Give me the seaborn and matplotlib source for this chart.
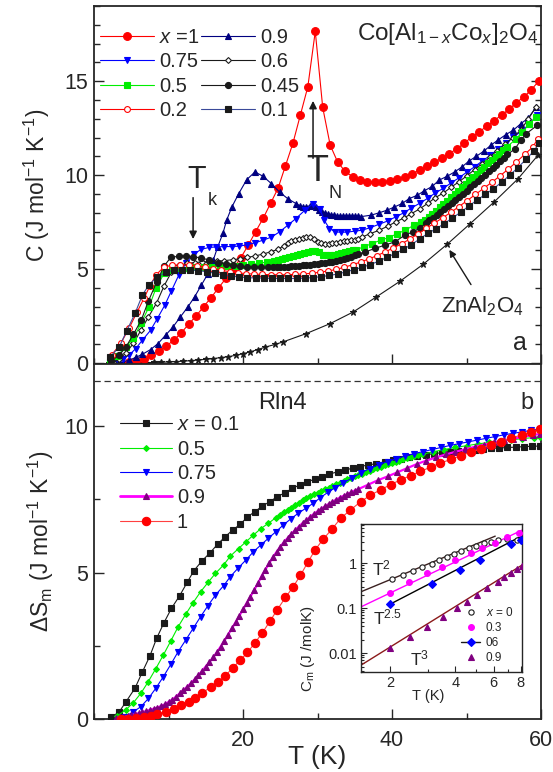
import numpy as np
import pandas as pd
import matplotlib
matplotlib.use("Agg")
import matplotlib.pyplot as plt
import seaborn as sns
from matplotlib.lines import Line2D
from matplotlib.ticker import MultipleLocator, FixedLocator, FixedFormatter, NullFormatter

# ---------------- panel a: specific heat C(T) ----------------
c_x100 = [(4.7,0.05),(5.7,0.1),(6.7,0.2),(7.7,0.42),(8.7,0.63),(9.7,0.9),(10.7,1.22),(11.7,1.6),(12.7,2.07),
          (13.7,2.5),(14.7,3.0),(15.7,3.47),(16.7,4.0),(17.7,4.5),(18.7,5.03),(19.7,5.6),(20.7,6.27),(21.7,7.0),
          (22.7,7.7),(23.7,8.5),(24.7,9.3),(25.7,10.5),(26.7,11.7),(27.7,13.2),(28.7,14.7),(29.7,17.65),(30.7,13.6),
          (31.7,11.6),(32.7,10.7),(33.7,10.2),(34.7,9.92),(35.7,9.75),(36.7,9.66),(37.7,9.64),(38.7,9.65),(39.7,9.7),
          (40.7,9.78),(41.7,9.92),(42.7,10.08),(43.7,10.26),(44.7,10.47),(45.7,10.7),(46.7,10.9),(47.7,11.15),
          (48.7,11.4),(49.7,11.7),(50.7,12.03),(51.7,12.3),(52.7,12.6),(53.7,12.9),(54.7,13.2),(55.7,13.5),
          (56.7,13.86),(57.7,14.16),(58.7,14.55),(59.7,15.0)]

c_x090 = [(3.5,0.02),(4.7,0.15),(5.6,0.3),(6.5,0.47),(7.6,0.72),(8.6,1.04),(9.6,1.48),(10.6,1.92),(11.6,2.46),
          (12.6,2.99),(13.5,3.52),(14.4,4.14),(15.3,4.76),(16.0,5.47),(16.6,6.18),(17.3,6.9),(17.8,7.6),(18.5,8.3),
          (19.4,9.0),(20.5,9.76),(21.6,10.17),(22.7,9.94),(23.8,9.55),(24.9,9.1),(26.0,8.75),(27.1,8.49),(27.6,8.38),
          (28.0,8.32),(28.5,8.32),(29.0,8.38),(29.4,8.42),(29.8,8.3),(30.2,8.14),(30.6,8.05),(31.0,7.97),(31.4,7.92),
          (31.8,7.88),(32.2,7.86),(32.6,7.84),(33.0,7.82),(33.4,7.81),(33.8,7.8),(34.2,7.8),(34.6,7.8),(35.0,7.8),
          (35.4,7.8),(35.8,7.79),(37.2,7.87),(38.3,8.0),(39.3,8.13),(40.3,8.3),(41.4,8.5),(42.3,8.75),(43.4,8.93),
          (44.3,9.16),(45.4,9.4),(46.3,9.73),(47.4,9.94),(48.4,10.17),(49.4,10.44),(50.3,10.74),(51.3,11.0),
          (52.3,11.27),(53.3,11.6),(54.2,11.86),(55.3,12.16),(56.3,12.4),(57.3,12.74),(58.3,13.04),(59.3,13.6)]

c_x075 = [(2.8,0.05),(3.9,0.24),(4.7,0.42),(5.6,0.77),(6.5,1.22),(7.6,1.75),(8.5,2.37),(9.5,3.08),(10.4,3.85),
          (11.4,4.7),(12.4,5.35),(13.4,5.8),(14.4,6.05),(15.4,6.15),(16.4,6.18),(17.5,6.2),(18.5,6.2),(19.5,6.22),
          (20.6,6.3),(21.6,6.4),(22.7,6.54),(23.8,6.7),(24.9,6.98),(26.0,7.33),(27.1,7.69),(28.3,8.13),(29.4,8.49),
          (30.3,8.22),(30.9,7.6),(31.6,7.16),(32.4,6.98),(33.2,6.96),(34.0,6.97),(35.0,7.02),(36.0,7.07),(37.1,7.21),
          (38.3,7.39),(39.4,7.56),(40.5,7.78),(41.6,8.0),(42.6,8.25),(43.7,8.5),(44.8,8.77),(45.8,9.05),(46.9,9.3),
          (47.9,9.58),(49.0,9.86),(50.0,10.15),(51.1,10.45),(52.1,10.75),(53.2,11.05),(54.2,11.38),(55.3,11.7),
          (56.3,12.02),(57.4,12.35),(58.4,12.7),(59.5,13.2)]

c_x060 = [(2.5,0.05),(3.4,0.2),(4.3,0.55),(5.3,1.05),(6.3,1.75),(7.3,2.45),(8.4,3.2),(9.4,4.1),(10.4,4.85),
          (11.4,5.2),(12.5,5.3),(13.5,5.35),(14.5,5.38),(15.5,5.4),(16.5,5.42),(17.5,5.45),(18.6,5.5),(19.6,5.55),
          (20.6,5.62),(21.6,5.7),(22.7,5.8),(23.7,5.92),(24.7,6.05),(25.5,6.25),(26.0,6.38),(26.5,6.47),(27.0,6.55),
          (27.5,6.62),(28.0,6.68),(28.5,6.72),(29.0,6.72),(29.5,6.62),(30.0,6.45),(30.5,6.37),(31.0,6.35),(31.5,6.36),
          (32.0,6.38),(32.5,6.41),(33.0,6.44),(33.5,6.47),(34.0,6.5),(34.5,6.54),(35.0,6.57),(35.5,6.62),(36.0,6.71),
          (37.1,6.89),(38.3,7.07),(39.4,7.28),(40.5,7.51),(41.6,7.72),(42.6,7.95),(43.7,8.2),(44.8,8.5),(45.8,8.8),
          (46.9,9.05),(47.9,9.35),(49.0,9.65),(50.0,9.95),(51.1,10.3),(52.1,10.6),(53.1,10.95),(54.1,11.3),
          (55.2,11.65),(56.2,12.0),(57.3,12.4),(58.3,13.0),(59.3,13.6)]

c_x050 = [(2.2,0.05),(3.1,0.37),(4.25,0.87),(5.3,1.31),(6.3,2.11),(7.4,3.0),(8.3,3.97),(9.4,4.77),(10.5,4.95),
          (11.6,5.04),(12.7,5.08),(13.7,5.1),(14.8,5.12),(15.8,5.13),(16.9,5.14),(17.9,5.15),(19.0,5.18),(20.0,5.2),
          (21.1,5.25),(22.1,5.3),(23.2,5.38),(24.2,5.45),(24.7,5.5),(25.2,5.54),(25.7,5.59),(26.2,5.64),(26.7,5.69),
          (27.2,5.74),(27.7,5.8),(28.2,5.86),(28.7,5.92),(29.2,5.97),(29.7,5.98),(30.2,5.9),(30.7,5.77),(31.2,5.74),
          (31.7,5.75),(32.2,5.77),(32.7,5.81),(33.2,5.85),(33.7,5.9),(34.2,5.94),(34.7,5.99),(35.2,6.04),(36.2,6.18),
          (37.3,6.36),(38.5,6.54),(39.6,6.68),(40.7,6.89),(41.8,7.07),(42.9,7.33),(43.9,7.5),(44.4,7.62),(44.9,7.76),
          (45.4,7.93),(45.9,8.1),(46.4,8.28),(46.9,8.46),(47.4,8.64),(47.9,8.82),(48.4,9.0),(48.9,9.18),(49.4,9.36),
          (49.9,9.54),(50.4,9.72),(50.9,9.9),(51.4,10.08),(51.9,10.26),(52.4,10.44),(52.9,10.62),(53.4,10.8),
          (53.9,10.98),(54.4,11.15),(54.9,11.32),(55.4,11.5),(56.6,11.9),(57.5,12.3),(58.4,12.7),(59.3,13.1)]

c_x045 = [(2.3,0.1),(3.4,0.43),(4.25,0.83),(5.3,1.54),(6.35,2.29),(7.3,3.3),(8.4,4.3),(9.4,5.16),(10.3,5.62),
          (11.4,5.69),(12.4,5.69),(13.3,5.65),(14.4,5.6),(15.5,5.47),(16.6,5.35),(17.7,5.25),(18.7,5.2),(19.6,5.15),
          (20.5,5.1),(21.5,5.1),(22.4,5.1),(23.4,5.1),(24.0,5.1),(24.5,5.1),(25.0,5.1),(25.5,5.12),(26.0,5.13),
          (26.5,5.15),(27.0,5.17),(27.5,5.18),(28.0,5.2),(28.5,5.21),(29.0,5.23),(29.5,5.26),(30.0,5.28),(30.5,5.3),
          (31.0,5.33),(31.5,5.37),(32.0,5.4),(32.5,5.43),(33.0,5.47),(33.5,5.53),(34.0,5.6),(34.5,5.67),(35.0,5.75),
          (35.5,5.8),(36.4,5.91),(37.7,6.1),(39.0,6.27),(40.4,6.45),(41.7,6.8),(42.8,6.98),(43.8,7.2),(44.5,7.45),
          (45.0,7.6),(45.5,7.73),(46.0,7.88),(46.5,8.03),(47.0,8.18),(47.5,8.34),(48.0,8.5),(48.5,8.67),(49.0,8.84),
          (49.5,9.01),(50.0,9.18),(50.5,9.35),(51.0,9.52),(51.5,9.69),(52.0,9.86),(52.5,10.03),(53.0,10.2),
          (53.5,10.38),(54.0,10.56),(54.5,10.74),(55.0,10.92),(55.5,11.1),(56.5,11.4),(57.3,11.86),(58.0,12.2),
          (59.5,12.65)]

c_x020 = [(2.4,0.45),(3.6,1.05),(4.7,1.85),(5.8,2.73),(6.7,3.44),(7.5,4.1),(8.3,4.68),(9.4,5.12),(10.5,5.2),
          (11.6,5.22),(12.7,5.22),(13.8,5.18),(14.9,5.1),(16.0,5.02),(17.1,4.94),(18.2,4.86),(19.3,4.8),(20.4,4.76),
          (21.5,4.73),(22.6,4.72),(23.7,4.7),(24.8,4.7),(25.9,4.7),(27.0,4.72),(28.1,4.74),(29.2,4.78),(30.3,4.83),
          (31.4,4.9),(32.5,4.98),(33.6,5.1),(34.7,5.23),(35.8,5.38),(36.9,5.54),(38.0,5.72),(39.1,5.92),(40.2,6.13),
          (41.3,6.35),(42.4,6.6),(43.5,6.88),(44.6,7.17),(45.7,7.45),(46.8,7.73),(47.9,8.02),(49.0,8.33),(50.1,8.65),
          (51.2,8.97),(52.3,9.3),(53.4,9.62),(54.5,9.96),(55.6,10.32),(56.7,10.7),(57.8,11.1),(58.9,11.5),(59.6,11.95)]

c_x010 = [(2.2,0.34),(3.4,0.87),(4.4,1.72),(5.5,2.64),(6.5,3.62),(7.4,4.18),(8.5,4.59),(9.6,4.82),(10.7,4.95),
          (11.8,4.97),(12.9,4.95),(14.0,4.92),(15.1,4.86),(16.2,4.78),(17.3,4.69),(18.4,4.63),(19.5,4.58),(20.6,4.54),
          (21.7,4.53),(22.8,4.52),(23.9,4.5),(25.0,4.5),(26.1,4.5),(27.2,4.5),(28.3,4.52),(29.4,4.55),(30.5,4.6),
          (31.6,4.66),(32.7,4.74),(33.8,4.85),(34.9,4.97),(36.0,5.1),(37.1,5.24),(38.2,5.42),(39.3,5.62),(40.4,5.83),
          (41.5,6.05),(42.6,6.3),(43.7,6.6),(44.8,6.9),(45.9,7.14),(47.0,7.42),(48.1,7.72),(49.2,8.02),(50.3,8.35),
          (51.4,8.67),(52.5,8.97),(53.6,9.27),(54.7,9.62),(55.8,10.0),(56.9,10.4),(58.0,10.85),(59.1,11.3),(59.7,11.7)]

c_zn = [(2,0.0),(3,0.0),(4,0.0),(5,0.01),(6,0.01),(7,0.02),(8,0.03),(9,0.04),(10,0.06),(11,0.08),(12,0.1),
        (13,0.13),(14,0.16),(15,0.2),(16,0.24),(17,0.29),(18,0.34),(19,0.41),(20,0.5),(21,0.6),(22,0.72),(23,0.85),
        (24.3,0.99),(25.4,1.13),(28.5,1.57),(31.7,2.1),(34.8,2.72),(37.9,3.52),(41.1,4.36),(44.2,5.26),(47.4,6.32),
        (50.5,7.42),(53.7,8.57),(56.9,9.8),(59.6,11.06)]

# ---------------- panel b: magnetic entropy ----------------
s_x010 = [(2.3,0.05),(3.4,0.25),(4.3,0.59),(5.5,1.05),(6.5,1.61),(7.5,2.15),(8.4,2.75),(9.4,3.29),(10.4,3.78),
          (11.5,4.21),(12.5,4.66),(13.4,5.06),(14.5,5.4),(15.6,5.68),(16.6,5.97),(17.6,6.22),(18.6,6.45),(19.6,6.64),
          (20.6,6.9),(21.6,7.08),(22.6,7.27),(23.6,7.42),(24.6,7.59),(25.6,7.72),(26.6,7.87),(27.6,7.99),(28.6,8.1),
          (29.6,8.18),(30.6,8.27),(31.6,8.36),(32.7,8.44),(33.7,8.5),(34.7,8.56),(35.7,8.62),(36.8,8.67),(37.9,8.72),
          (39.0,8.78),(40.1,8.84),(41.2,8.88),(42.3,8.93),(43.4,8.97),(44.5,9.02),(45.6,9.06),(46.7,9.09),(47.8,9.12),
          (48.9,9.15),(50.0,9.18),(51.1,9.2),(52.2,9.22),(53.3,9.24),(54.4,9.25),(55.5,9.27),(56.6,9.28),(57.7,9.3),
          (58.8,9.31),(59.8,9.32)]

s_x050 = [(3.1,0.1),(4.25,0.31),(5.3,0.56),(6.3,0.88),(7.25,1.26),(8.3,1.72),(9.3,2.18),(10.3,2.66),(11.3,3.15),
          (12.3,3.57),(13.3,3.97),(14.3,4.34),(15.3,4.66),(16.3,4.97),(17.4,5.26),(18.3,5.56),(19.4,5.82),(20.4,6.05),
          (21.4,6.28),(22.4,6.5),(23.4,6.68),(24.4,6.87),(25.0,6.96),(25.5,7.05),(26.0,7.13),(26.5,7.22),(27.0,7.3),
          (27.5,7.38),(28.0,7.46),(28.5,7.53),(29.0,7.6),(29.5,7.67),(30.0,7.73),(30.5,7.79),(31.0,7.85),(31.5,7.9),
          (32.0,7.96),(32.5,8.01),(33.0,8.07),(33.5,8.12),(34.0,8.18),(34.5,8.23),(35.0,8.28),(35.5,8.33),(36.0,8.38),
          (36.5,8.43),(37.0,8.48),(37.5,8.52),(38.0,8.57),(38.5,8.61),(39.0,8.66),(39.5,8.7),(40.0,8.74),(40.5,8.78),
          (41.0,8.82),(41.5,8.86),(42.0,8.9),(42.5,8.94),(43.0,8.97),(43.5,9.0),(44.0,9.03),(45.5,9.12),(47.0,9.2),
          (48.5,9.27),(50.0,9.33),(51.5,9.39),(53.0,9.44),(54.5,9.49),(56.0,9.53),(57.5,9.57),(59.0,9.61),(59.8,9.63)]

s_x075 = [(4.2,0.08),(5.3,0.25),(6.3,0.42),(7.3,0.7),(8.3,1.05),(9.3,1.44),(10.3,1.86),(11.3,2.3),(12.3,2.69),
          (13.3,3.09),(14.3,3.49),(15.3,3.87),(16.3,4.23),(17.4,4.55),(18.3,4.86),(19.3,5.14),(20.4,5.43),(21.4,5.71),
          (22.4,5.94),(23.4,6.17),(24.4,6.39),(25.4,6.62),(26.4,6.83),(27.4,7.02),(28.4,7.19),(29.4,7.36),(30.4,7.56),
          (31.4,7.74),(32.4,7.9),(33.4,8.05),(34.6,8.22),(35.8,8.4),(37.0,8.55),(38.2,8.68),(39.4,8.79),(40.6,8.89),
          (41.8,8.98),(43.0,9.06),(44.2,9.13),(45.4,9.2),(46.6,9.27),(47.8,9.34),(49.0,9.4),(50.2,9.46),(51.4,9.52),
          (52.6,9.58),(53.8,9.64),(55.0,9.7),(56.2,9.75),(57.4,9.8),(58.6,9.85),(59.8,9.9)]

s_x090 = [(3.0,0.04),(3.5,0.06),(4.0,0.08),(4.5,0.1),(5.0,0.13),(5.5,0.16),(6.0,0.2),(6.5,0.23),(7.0,0.27),
          (7.5,0.31),(8.0,0.35),(8.5,0.39),(9.0,0.44),(9.5,0.5),(10.0,0.58),(10.5,0.66),(11.0,0.76),(11.5,0.87),
          (12.0,0.99),(12.5,1.1),(13.0,1.22),(13.5,1.35),(14.0,1.49),(14.5,1.64),(15.0,1.79),(15.5,1.94),(16.0,2.1),
          (16.5,2.28),(17.0,2.47),(17.5,2.67),(18.0,2.88),(18.5,3.09),(19.0,3.3),(19.5,3.52),(20.0,3.74),(20.5,3.96),
          (21.0,4.18),(21.5,4.4),(22.0,4.63),(22.5,4.88),(23.0,5.1),(23.5,5.31),(24.0,5.52),(24.5,5.7),(25.0,5.88),
          (25.5,6.04),(26.0,6.18),(26.5,6.32),(27.0,6.45),(27.5,6.57),(28.0,6.69),(28.5,6.8),(29.0,6.9),(29.5,7.0),
          (30.0,7.09),(30.5,7.18),(31.0,7.26),(31.5,7.34),(32.0,7.42),(32.5,7.49),(33.0,7.56),(33.5,7.62),(34.0,7.68),
          (34.5,7.74),(35.0,7.8),(35.5,7.85),(36.8,8.0),(38.1,8.15),(39.4,8.28),(40.7,8.42),(42.0,8.56),(43.3,8.7),
          (44.6,8.82),(45.9,8.93),(47.2,9.03),(48.5,9.12),(49.8,9.21),(51.1,9.29),(52.4,9.37),(53.7,9.44),(55.0,9.51),
          (56.3,9.57),(57.6,9.63),(58.9,9.69),(59.8,9.73)]

s_x100 = [(3.6,0.0),(4.6,0.01),(5.6,0.03),(6.7,0.06),(7.6,0.11),(8.5,0.17),(9.6,0.25),(10.7,0.35),(11.7,0.46),
          (12.8,0.58),(13.6,0.73),(14.5,0.9),(15.7,1.08),(16.6,1.25),(17.6,1.47),(18.6,1.74),(19.6,2.0),(20.6,2.27),
          (21.6,2.6),(22.6,2.94),(23.6,3.33),(24.6,3.73),(25.7,4.15),(26.7,4.5),(27.7,4.9),(28.7,5.35),(29.7,5.78),
          (30.8,6.15),(32.0,6.5),(33.1,6.85),(34.4,7.13),(35.8,7.42),(37.1,7.64),(38.5,7.83),(39.8,8.0),(41.2,8.17),
          (42.5,8.31),(43.8,8.45),(45.2,8.6),(46.5,8.74),(47.9,8.86),(49.2,8.99),(50.6,9.11),(51.9,9.23),(53.3,9.36),
          (54.6,9.47),(56.0,9.59),(57.4,9.7),(58.7,9.8),(59.9,9.9)]

R_LN4 = 8.314 * np.log(4)

# ---------------- inset: low-T magnetic specific heat ----------------
cm_x0 = [(2.05,0.44),(2.3,0.54),(2.56,0.67),(2.82,0.83),(3.12,0.98),(3.37,1.17),(3.66,1.38),(3.93,1.58),
         (4.25,1.88),(4.6,2.12),(4.98,2.39),(5.4,2.74),(5.81,2.97),(6.25,3.24),(6.94,3.36),(7.7,3.3)]
cm_x03 = [(2.0,0.215),(2.45,0.385),(2.96,0.59),(3.47,0.83),(3.99,1.17),(4.7,1.69),(5.3,2.12),(6.06,2.83),
          (6.92,3.72),(7.85,4.57)]
cm_x06 = [(2.0,0.122),(3.12,0.336),(4.21,0.70),(5.2,1.17),(7.2,2.64),(8.0,3.25)]
cm_x09 = [(2.0,0.0127),(2.47,0.0231),(2.96,0.0385),(3.52,0.0641),(4.06,0.0985),(4.5,0.138),(5.05,0.2),
          (5.62,0.28),(6.25,0.39),(6.7,0.48),(7.2,0.6),(7.7,0.73),(8.1,0.86)]
# power-law guides  C = A * T^n  over [T_lo, T_hi]
fit_amp = [0.107, 0.044, 0.0216, 0.0017]
fit_exp = [2.0, 2.3, 2.5, 3.0]
fit_lo = [1.47, 1.47, 2.0, 1.47]
fit_hi = [6.1, 8.1, 8.1, 8.1]
fit_col = ["#3a2020", "#ff00ff", "#000000", "#8b1a1a"]

# ---------------- styling ----------------
sns.set_theme(style="ticks")
plt.rcParams["font.family"] = ["Liberation Sans", "DejaVu Sans"]
plt.rcParams["mathtext.fontset"] = "custom"
plt.rcParams["mathtext.rm"] = "Liberation Sans"
plt.rcParams["mathtext.it"] = "Liberation Sans:italic"
plt.rcParams["mathtext.bf"] = "Liberation Sans:bold"
plt.rcParams["axes.unicode_minus"] = False

RED, NAVY, BLUE, GREEN = "#ff0000", "#000080", "#0000ff", "#00ee00"
PURPLE, MAGENTA = "#800080", "#ff00ff"
SLATE = "#3a4a9a"


def trace(ax, pts, lc, marker, ms, mfc, mec, lw=0.8, mew=0.8, z=2):
    df = pd.DataFrame(pts, columns=["T", "v"])
    sns.lineplot(data=df, x="T", y="v", ax=ax, sort=False, estimator=None, color=lc,
                 linewidth=lw, marker=marker, markersize=ms, markerfacecolor=mfc,
                 markeredgecolor=mec, markeredgewidth=mew, zorder=z, legend=False)


def handle(lc, marker, ms, mfc, mec, lw=0.8, mew=0.8):
    return Line2D([0], [0], color=lc, lw=lw, marker=marker, markersize=ms,
                  markerfacecolor=mfc, markeredgecolor=mec, markeredgewidth=mew)


fig = plt.figure(figsize=(5.53, 7.72), dpi=100)
axA = fig.add_axes([0.170, 0.5285, 0.8083, 0.4637])
axB = fig.add_axes([0.170, 0.0687, 0.8083, 0.4598])
axI = fig.add_axes([0.6528, 0.1295, 0.2911, 0.1917])
axI.set_zorder(5)

# ---- panel a curves
sty_a = {
    "x100": (c_x100, RED, "o", 5.6, RED, RED),
    "x090": (c_x090, NAVY, "^", 4.6, NAVY, NAVY),
    "x075": (c_x075, BLUE, "v", 4.6, BLUE, BLUE),
    "x060": (c_x060, "k", "D", 3.0, "white", "k"),
    "x050": (c_x050, GREEN, "s", 4.2, GREEN, GREEN),
    "x045": (c_x045, "k", "o", 4.4, "k", "k"),
    "x020": (c_x020, RED, "o", 4.2, "white", RED),
    "x010": (c_x010, SLATE, "s", 4.2, "k", "k"),
}
trace(axA, c_zn, "k", "*", 5.0, "k", "k", lw=0.8, z=2)
for i, key in enumerate(["x100", "x090", "x075", "x060", "x050", "x045", "x020", "x010"]):
    pts, lc, mk, ms, mfc, mec = sty_a[key]
    trace(axA, pts, lc, mk, ms, mfc, mec, z=3 + i)

labels_a = [r"$x$ =1", "0.75", "0.5", "0.2", "0.9", "0.6", "0.45", "0.1"]
keys_a = ["x100", "x075", "x050", "x020", "x090", "x060", "x045", "x010"]
handles_a = [handle(sty_a[k][1], sty_a[k][2], sty_a[k][3], sty_a[k][4], sty_a[k][5]) for k in keys_a]
axA.legend(handles_a, labels_a, ncol=2, loc="upper left", bbox_to_anchor=(-0.018, 0.978),
           frameon=False, fontsize=14.5, handlelength=2.7, handletextpad=0.25,
           columnspacing=0.05, labelspacing=0.27, borderaxespad=0.3, numpoints=1)

axA.set_xlim(0, 60)
axA.set_ylim(-0.05, 19.0)
axA.xaxis.set_major_locator(FixedLocator([20, 40, 60]))
axA.xaxis.set_minor_locator(MultipleLocator(10))
axA.yaxis.set_major_locator(MultipleLocator(5))
axA.yaxis.set_minor_locator(MultipleLocator(1))
axA.tick_params(which="both", direction="in", right=True, top=False, labelbottom=False,
                labelsize=15.5, width=1.0, pad=4)
axA.tick_params(which="major", length=7)
axA.tick_params(which="minor", length=4)
axA.set_xlabel("")
axA.set_ylabel(r"C (J mol$^{-1}$ K$^{-1}$)", fontsize=16.5)
axA.yaxis.set_label_coords(-0.095, 0.5)

axA.text(59.6, 17.5, r"Co[Al$_{\mathrm{1-}x}$Co$_{x}$]$_{2}$O$_{4}$", ha="right", va="center", fontsize=17.5)
axA.text(13.8, 9.75, "T", ha="center", va="center", fontsize=22)
axA.text(15.9, 8.65, "k", ha="center", va="center", fontsize=13)
axA.annotate("", xy=(13.3, 6.45), xytext=(13.3, 8.95),
             arrowprops=dict(arrowstyle="-|>", color="k", lw=1.1, mutation_scale=11))
axA.text(29.9, 10.2, "T", ha="center", va="center", fontsize=26)
axA.text(32.3, 9.0, "N", ha="center", va="center", fontsize=13)
axA.annotate("", xy=(29.4, 14.1), xytext=(29.4, 10.75),
             arrowprops=dict(arrowstyle="-|>", color="k", lw=1.1, mutation_scale=11))
axA.text(52.2, 3.05, r"ZnAl$_2$O$_4$", ha="center", va="center", fontsize=16)
axA.annotate("", xy=(47.5, 6.15), xytext=(50.8, 4.05),
             arrowprops=dict(arrowstyle="-|>", color="k", lw=1.0, mutation_scale=10))
axA.text(57.2, 1.05, "a", ha="center", va="center", fontsize=18)
for s in axA.spines.values():
    s.set_linewidth(1.3)

# ---- panel b curves
sty_b = {
    "x010": (s_x010, "k", "s", 4.6, "k", "k"),
    "x050": (s_x050, GREEN, "D", 3.0, GREEN, GREEN),
    "x075": (s_x075, BLUE, "v", 4.8, BLUE, BLUE),
    "x090": (s_x090, MAGENTA, "^", 4.4, PURPLE, PURPLE),
    "x100": (s_x100, "#ff4040", "o", 6.0, RED, RED),
}
for i, key in enumerate(["x010", "x050", "x075", "x090", "x100"]):
    pts, lc, mk, ms, mfc, mec = sty_b[key]
    lw = 1.6 if key == "x090" else 0.8
    trace(axB, pts, lc, mk, ms, mfc, mec, lw=lw, z=3 + i)

labels_b = [r"$x$ = 0.1", "0.5", "0.75", "0.9", "1"]
handles_b = []
for key in ["x010", "x050", "x075", "x090", "x100"]:
    pts, lc, mk, ms, mfc, mec = sty_b[key]
    handles_b.append(handle(lc, mk, ms, mfc, mec, lw=(2.0 if key == "x090" else 0.8)))
axB.legend(handles_b, labels_b, loc="upper left", bbox_to_anchor=(0.03, 0.89), frameon=False,
           fontsize=14.5, handlelength=2.6, handletextpad=0.25, labelspacing=0.27,
           borderaxespad=0.2, numpoints=1)

axB.axhline(R_LN4, color="#333333", lw=0.9, ls=(0, (5, 3)), zorder=1)
axB.text(22.0, 10.8, "Rln4", ha="left", va="center", fontsize=17)
axB.text(58.1, 10.8, "b", ha="center", va="center", fontsize=17)

axB.set_xlim(0, 60)
axB.set_ylim(0, 12.12)
axB.xaxis.set_major_locator(FixedLocator([20, 40, 60]))
axB.xaxis.set_minor_locator(MultipleLocator(10))
axB.yaxis.set_major_locator(MultipleLocator(5))
axB.yaxis.set_minor_locator(MultipleLocator(2.5))
axB.tick_params(which="both", direction="in", right=False, top=False, labelsize=15.5, width=1.0)
axB.tick_params(axis="x", pad=8)
axB.tick_params(axis="y", pad=4)
axB.tick_params(which="major", length=7)
axB.tick_params(which="minor", length=4)
axB.set_xlabel("T (K)", fontsize=19)
axB.xaxis.set_label_coords(0.5, -0.072)
axB.set_ylabel(r"$\Delta$S$_{\mathrm{m}}$ (J mol$^{-1}$ K$^{-1}$)", fontsize=16.5)
axB.yaxis.set_label_coords(-0.085, 0.5)
for s in axB.spines.values():
    s.set_linewidth(1.3)

# ---- inset
axI.set_facecolor("white")
axI.set_xscale("log")
axI.set_yscale("log")
for a, n, lo, hi, col in zip(fit_amp, fit_exp, fit_lo, fit_hi, fit_col):
    tt = np.geomspace(lo, hi, 40)
    sns.lineplot(x=tt, y=a * tt ** n, ax=axI, color=col, lw=1.0, zorder=2, legend=False)
trace(axI, cm_x0, "k", "o", 3.8, "white", "k", lw=0, mew=0.8, z=4)
trace(axI, cm_x03, MAGENTA, "o", 4.2, MAGENTA, MAGENTA, lw=0, z=4)
trace(axI, cm_x06, BLUE, "D", 4.0, BLUE, BLUE, lw=0, z=4)
trace(axI, cm_x09, PURPLE, "^", 4.4, PURPLE, PURPLE, lw=0, z=4)
axI.set_xlim(1.47, 8.1)
axI.set_ylim(0.0038, 7.4)
axI.xaxis.set_major_locator(FixedLocator([2, 4, 6, 8]))
axI.xaxis.set_major_formatter(FixedFormatter(["2", "4", "6", "8"]))
axI.xaxis.set_minor_locator(FixedLocator([3, 5, 7]))
axI.xaxis.set_minor_formatter(NullFormatter())
axI.yaxis.set_major_locator(FixedLocator([0.01, 0.1, 1]))
axI.yaxis.set_major_formatter(FixedFormatter(["0.01", "0.1", "1"]))
axI.yaxis.set_minor_formatter(NullFormatter())
axI.tick_params(which="both", direction="in", labelsize=10.5, width=0.8, pad=3)
axI.tick_params(which="major", length=4)
axI.tick_params(which="minor", length=2)
axI.set_xlabel("T (K)", fontsize=10.5)
axI.xaxis.set_label_coords(0.42, -0.115)
axI.set_ylabel("C$_{\\mathrm{m}}$ (J /molK)", fontsize=11)
axI.yaxis.set_label_coords(-0.275, 0.16)
for s in axI.spines.values():
    s.set_linewidth(1.0)
axI.text(1.82, 0.78, r"T$^2$", ha="center", va="center", fontsize=12.5)
axI.text(1.95, 0.062, r"T$^{2.5}$", ha="center", va="center", fontsize=12.5)
axI.text(2.72, 0.0078, r"T$^3$", ha="center", va="center", fontsize=12.5)
hI = [handle("none", "o", 3.8, "white", "k"),
      handle("none", "o", 4.2, MAGENTA, MAGENTA),
      handle("k", "D", 4.0, BLUE, BLUE, lw=1.0),
      handle("none", "^", 4.4, PURPLE, PURPLE)]
axI.legend(hI, [r"$x$ = 0", "0.3", "06", "0.9"], loc="lower right", bbox_to_anchor=(1.0, 0.0),
           frameon=False, fontsize=8.5, handlelength=1.6, handletextpad=0.5, labelspacing=0.25,
           borderaxespad=0.3, numpoints=1)

fig.savefig("out.png", dpi=100)
